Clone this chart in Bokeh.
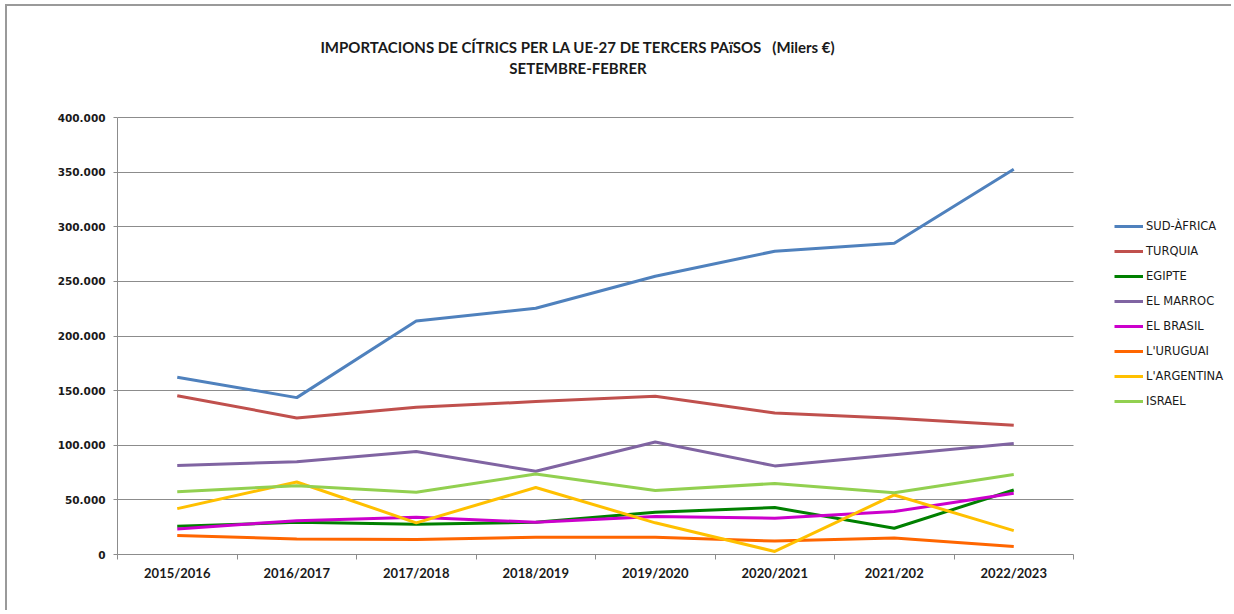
from bokeh.plotting import figure
from bokeh.models import (Range1d, FixedTicker, Legend, LegendItem, Label)
from bokeh.embed import file_html
from bokeh.resources import INLINE

# ---- data ----
categories = ["2015/2016", "2016/2017", "2017/2018", "2018/2019",
              "2019/2020", "2020/2021", "2021/202", "2022/2023"]

sud_africa = [162200, 143600, 213800, 225400, 254700, 277600, 284900, 352700]
turquia    = [145400, 125000, 134700, 140000, 144800, 129600, 124800, 118300]
egipte     = [25800, 29500, 27700, 29500, 38700, 43000, 24000, 59000]
el_marroc  = [81500, 85000, 94200, 76200, 103000, 81100, 91200, 101500]
el_brasil  = [23400, 31000, 34100, 29500, 34800, 33200, 39300, 56000]
uruguai    = [17400, 14300, 13700, 15800, 15800, 12300, 15200, 7300]
argentina  = [42000, 66400, 29000, 61300, 29000, 2800, 54500, 21900]
israel     = [57500, 63000, 57000, 73700, 58500, 65000, 56600, 73200]

series_names = ["SUD-ÀFRICA", "TURQUIA", "EGIPTE", "EL MARROC",
                "EL BRASIL", "L'URUGUAI", "L'ARGENTINA", "ISRAEL"]
series_values = [sud_africa, turquia, egipte, el_marroc,
                 el_brasil, uruguai, argentina, israel]
series_colors = ["#4F81BD", "#C0504D", "#008000", "#8064A2",
                 "#CC00CC", "#FF6600", "#FFC000", "#92D050"]

y_ticks = [0, 50000, 100000, 150000, 200000, 250000, 300000, 350000, 400000]
y_tick_labels = ["0", "50.000", "100.000", "150.000", "200.000",
                 "250.000", "300.000", "350.000", "400.000"]

title_line1 = "IMPORTACIONS DE CÍTRICS PER LA UE-27 DE TERCERS PAïSOS \u00a0 (Milers €)"
title_line2 = "SETEMBRE-FEBRER"

GRID = "#8C8C8C"

xs = list(range(len(categories)))
n = len(categories)
y_max = y_ticks[-1]

# frame covers the area right of / above the axes; the plotting area
# proper is limited by axis bounds (119.5 px per category, 437 px per 400.000)
x_end = -0.5 + (1228 - 117) / 119.5
y_top = (554 - 6) / 437 * y_max

p = figure(width=1226, height=606, output_backend="svg", toolbar_location=None,
           x_range=Range1d(-0.5, x_end),
           y_range=Range1d(0, y_top),
           min_border_left=110, min_border_right=5,
           min_border_top=0, min_border_bottom=58)
p.styles = {"margin-left": "7px", "margin-top": "6px",
            "box-shadow": "-2px -2px 0px 0px #9a9a9a"}
p.outline_line_color = None
p.background_fill_color = "white"
p.border_fill_color = "white"

# x axis: labels at category centres, ticks at boundaries
p.xaxis.bounds = (-0.5, n - 0.5)
p.xaxis.ticker = FixedTicker(ticks=xs,
                             minor_ticks=[i - 0.5 for i in range(n + 1)])
p.xaxis.major_label_overrides = {i: c for i, c in enumerate(categories)}
p.xaxis.major_tick_out = 0
p.xaxis.major_tick_in = 0
p.xaxis.minor_tick_out = 5
p.xaxis.minor_tick_in = 0
p.xaxis.minor_tick_line_color = GRID
p.xaxis.axis_line_color = GRID
p.xaxis.major_label_standoff = 5
p.xaxis.major_label_text_font = "Lato"
p.xaxis.major_label_text_font_style = "bold"
p.xaxis.major_label_text_font_size = "13px"
p.xaxis.major_label_text_color = "#1a1a1a"
p.xgrid.grid_line_color = None

# y axis
p.yaxis.bounds = (0, y_max)
p.yaxis.ticker = FixedTicker(ticks=y_ticks, minor_ticks=[])
p.yaxis.major_label_overrides = {t: l for t, l in zip(y_ticks, y_tick_labels)}
p.yaxis.major_tick_out = 4
p.yaxis.major_tick_in = 0
p.yaxis.major_tick_line_color = GRID
p.yaxis.axis_line_color = GRID
p.yaxis.major_label_standoff = 8
p.yaxis.major_label_text_font = "DejaVu Sans"
p.yaxis.major_label_text_font_style = "bold"
p.yaxis.major_label_text_font_size = "10.5px"
p.yaxis.major_label_text_color = "#1a1a1a"

# horizontal gridlines limited to the plotting area
grid_ok = False
try:
    p.ygrid.cross_bounds = (-0.5, n - 0.5)
    p.ygrid.grid_line_color = GRID
    p.ygrid.grid_line_width = 1
    grid_ok = True
except Exception:
    grid_ok = False
if not grid_ok:
    p.ygrid.grid_line_color = None
    p.segment(x0=[-0.5] * len(y_ticks), x1=[n - 0.5] * len(y_ticks),
              y0=y_ticks, y1=y_ticks, line_color=GRID, line_width=1)

items = []
for name, vals, col in zip(series_names, series_values, series_colors):
    r = p.line(xs, vals, line_color=col, line_width=3)
    items.append(LegendItem(label=name, renderers=[r]))

legend = Legend(items=items, location=(997, 143), orientation="vertical",
                glyph_width=29, glyph_height=20, label_height=20,
                spacing=5, padding=0, margin=0, label_standoff=3,
                border_line_color=None, background_fill_alpha=0,
                label_text_font="DejaVu Sans", label_text_font_size="11.5px",
                label_text_color="#1a1a1a")
p.add_layout(legend, "center")

# title (two lines)
title_x = (577.5 - 117) / 119.5 - 0.5
t1 = Label(x=title_x, y=(554 - 46) / 437 * y_max, text=title_line1,
           text_align="center", text_baseline="middle", text_font="Lato",
           text_font_style="bold", text_font_size="15px", text_color="#1a1a1a")
t2 = Label(x=title_x, y=(554 - 67) / 437 * y_max, text=title_line2,
           text_align="center", text_baseline="middle", text_font="Lato",
           text_font_style="bold", text_font_size="15px", text_color="#1a1a1a")
p.add_layout(t1)
p.add_layout(t2)

open("out.html", "w").write(file_html(p, INLINE))
